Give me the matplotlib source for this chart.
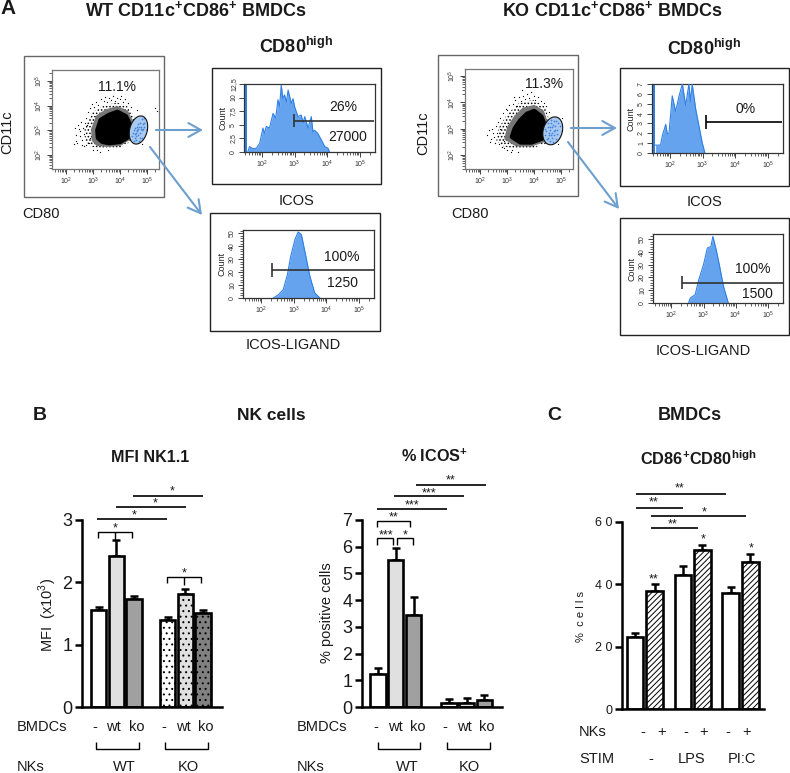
"""
Flow cytometry panels (A) and bar charts (B, C) for the BMDC / NK cell figure.
"""

import numpy as np
import matplotlib
matplotlib.use("Agg")
import matplotlib.pyplot as plt
from matplotlib.patches import Polygon, Rectangle
from matplotlib.ticker import LogLocator, FuncFormatter, NullFormatter, MultipleLocator

plt.rcParams['font.family'] = ['Liberation Sans', 'DejaVu Sans']
plt.rcParams['mathtext.fontset'] = 'custom'
plt.rcParams['mathtext.rm'] = 'Liberation Sans'
plt.rcParams['mathtext.bf'] = 'Liberation Sans:bold'
plt.rcParams['hatch.linewidth'] = 0.7

W, H = 790, 773

# --- panel B: MFI NK1.1
mfi_means = [1.55, 2.43, 1.74, 1.40, 1.82, 1.51]
mfi_errors = [0.05, 0.25, 0.04, 0.05, 0.08, 0.05]
# --- panel B: % ICOS+
icos_means = [1.25, 5.50, 3.45, 0.15, 0.15, 0.25]
icos_errors = [0.20, 0.47, 0.65, 0.15, 0.17, 0.20]
# --- panel C: CD86+CD80high
cd86_means = [23.0, 38.0, 43.0, 51.0, 37.3, 47.3]
cd86_errors = [1.3, 2.0, 2.8, 1.5, 1.9, 2.3]

bmdc_labels = ['-', 'wt', 'ko', '-', 'wt', 'ko']
nk_labels = ['WT', 'KO']
nk_stim_labels = ['-', '+', '-', '+', '-', '+']
stim_labels = ['-', 'LPS', 'PI:C']
c_tick_labels = ['0', '2 0', '4 0', '6 0']

# --- panel A histograms, log10(intensity) and count
wt_icos_log = [1.57, 1.62, 1.72, 1.83, 1.93, 2.03, 2.08, 2.13, 2.23, 2.34, 2.42, 2.49, 2.54, 2.59, 2.64, 2.69,
               2.75, 2.80, 2.90, 2.95, 3.00, 3.10, 3.20, 3.26, 3.31, 3.41, 3.51, 3.56, 3.61, 3.71, 3.82, 3.92, 4.02, 4.07]
wt_icos_count = [0.1, 1.0, 0.6, 0.7, 1.6, 4.4, 3.4, 4.7, 4.4, 7.1, 6.2, 9.6, 8.4, 12.3, 9.8, 10.5,
                 9.2, 11.4, 8.9, 9.8, 8.3, 6.5, 6.8, 5.4, 6.5, 4.4, 6.5, 3.7, 4.0, 3.4, 2.2, 1.0, 0.7, 0.0]
ko_icos_log = [1.56, 1.71, 1.77, 1.87, 1.92, 1.97, 2.07, 2.17, 2.28, 2.38, 2.48, 2.58, 2.63, 2.68, 2.79, 2.89, 2.99, 3.07]
ko_icos_count = [0.8, 0.8, 1.8, 2.9, 1.9, 2.0, 5.8, 4.2, 5.8, 7.0, 4.8, 7.0, 5.2, 7.0, 4.4, 2.7, 1.0, 0.0]
wt_icosl_log = [2.37, 2.52, 2.67, 2.80, 2.90, 3.03, 3.13, 3.23, 3.37, 3.49, 3.64, 3.80]
wt_icosl_count = [0, 2.5, 6.4, 18, 32, 45, 51, 49, 32, 17, 4, 0]
ko_icosl_log = [2.54, 2.59, 2.74, 2.85, 3.00, 3.12, 3.23, 3.29, 3.39, 3.49, 3.62, 3.77]
ko_icosl_count = [0.5, 3.9, 6.5, 18, 30, 43, 44, 52, 42, 30, 13, 0]

# --- panel A dot plots: dense cloud outlines, stray events and events in the gate (log10 units)
wt_core = [(3.2, 2.7), (3.18, 3.0), (3.3, 3.4), (3.6, 3.6), (3.9, 3.72), (4.2, 3.55), (4.35, 3.2), (4.3, 2.75), (4.0, 2.55), (3.6, 2.5), (3.35, 2.55)]
wt_mid = [(3.0, 2.6), (2.98, 3.05), (3.15, 3.55), (3.5, 3.8), (3.9, 3.92), (4.25, 3.75), (4.45, 3.3), (4.4, 2.7), (4.0, 2.42), (3.5, 2.38), (3.15, 2.42)]
wt_outer = [(2.7, 2.55), (2.68, 3.1), (2.95, 3.7), (3.4, 4.0), (3.9, 4.12), (4.3, 3.95), (4.55, 3.5), (4.5, 2.6), (4.0, 2.3), (3.4, 2.28), (2.95, 2.32)]
wt_stray_x = [2.28, 2.35, 2.42, 2.48, 2.52, 2.55, 2.6, 2.62, 2.66, 2.45, 2.38, 2.58, 2.72, 2.75, 2.78, 2.82,
              2.85, 2.9, 2.7, 2.65, 2.95, 3.0, 3.05, 3.1, 3.2, 3.3, 3.4, 3.45, 3.52, 3.6, 3.68, 3.75, 3.82,
              3.9, 3.98, 4.05, 4.12, 4.2, 4.3, 4.42, 5.3, 5.38, 4.62, 4.8, 3.15, 3.25, 3.55, 2.5, 2.32, 2.88, 4.95]
wt_stray_y = [2.45, 2.8, 2.5, 3.05, 2.75, 3.35, 2.6, 3.1, 2.85, 3.2, 2.55, 2.42, 3.5, 2.4, 3.2, 3.75,
              2.5, 3.9, 3.3, 2.35, 4.05, 2.2, 3.95, 4.15, 4.02, 4.28, 4.2, 4.35, 4.15, 4.3, 4.22, 4.38, 4.2,
              4.32, 4.25, 4.38, 4.15, 4.28, 4.12, 3.95, 3.92, 3.78, 3.82, 2.45, 2.18, 2.12, 2.2, 2.98, 3.08, 2.7, 3.3]
wt_gate_x = [4.45, 4.5, 4.52, 4.55, 4.58, 4.6, 4.62, 4.65, 4.68, 4.7, 4.72, 4.75, 4.78, 4.8, 4.82, 4.85, 4.88, 4.9,
             4.48, 4.56, 4.64, 4.72, 4.8, 4.88, 4.6, 4.68, 4.76, 4.84, 4.55, 4.63, 4.71]
wt_gate_y = [2.75, 2.55, 3.0, 2.7, 2.9, 2.6, 3.15, 2.8, 3.05, 2.55, 3.3, 2.9, 3.15, 2.7, 3.45, 3.05, 3.3, 3.5,
             2.9, 3.1, 3.0, 2.7, 3.0, 3.15, 2.75, 3.25, 3.05, 3.25, 2.85, 2.95, 3.15]
ko_core = [(3.2, 2.7), (3.3, 3.0), (3.5, 3.3), (3.75, 3.55), (4.0, 3.65), (4.25, 3.45), (4.4, 3.05), (4.3, 2.65), (3.9, 2.5), (3.5, 2.5)]
ko_mid = [(2.95, 2.62), (3.05, 3.05), (3.3, 3.45), (3.6, 3.75), (4.0, 3.85), (4.32, 3.65), (4.5, 3.1), (4.4, 2.55), (3.9, 2.38), (3.35, 2.38)]
ko_outer = [(2.6, 2.55), (2.7, 3.05), (3.0, 3.55), (3.4, 3.95), (3.95, 4.1), (4.4, 3.85), (4.6, 3.2), (4.5, 2.45), (3.9, 2.25), (3.2, 2.25), (2.8, 2.35)]
ko_stray_x = [2.25, 2.32, 2.4, 2.45, 2.5, 2.55, 2.58, 2.35, 2.62, 2.66, 2.7, 2.75, 2.8, 2.85, 2.9, 2.95,
              3.0, 3.08, 3.15, 3.22, 3.3, 3.38, 3.45, 3.52, 3.6, 3.68, 3.75, 3.82, 3.9, 3.98, 4.05, 4.15,
              4.25, 4.35, 4.45, 4.55, 3.0, 3.18, 3.4, 2.48, 2.72, 5.02, 4.9, 3.25, 3.55, 2.88]
ko_stray_y = [2.75, 2.95, 2.6, 3.0, 2.7, 2.45, 3.1, 2.5, 2.85, 3.25, 2.42, 3.4, 2.3, 3.6, 2.25, 3.75,
              3.7, 3.9, 2.1, 3.95, 4.1, 3.85, 4.2, 4.05, 4.25, 4.12, 4.32, 4.18, 4.4, 4.25, 4.1, 4.2,
              4.05, 3.98, 3.85, 3.62, 2.2, 2.18, 2.1, 2.85, 3.0, 3.4, 2.42, 4.22, 4.48, 2.55]
ko_gate_x = [4.4, 4.45, 4.48, 4.5, 4.55, 4.58, 4.6, 4.62, 4.65, 4.68, 4.7, 4.72, 4.75, 4.78, 4.8, 4.85, 4.9, 4.95,
             4.42, 4.52, 4.6, 4.68, 4.76, 4.84, 4.56, 4.64, 4.72, 4.8, 4.5, 4.62, 4.7]
ko_gate_y = [2.75, 2.9, 2.6, 3.05, 2.75, 2.95, 2.55, 3.2, 2.85, 3.05, 2.5, 3.3, 2.75, 3.1, 2.6, 2.95, 3.2, 3.1,
             3.0, 3.2, 3.05, 2.65, 2.95, 2.8, 2.85, 3.35, 2.9, 3.3, 2.65, 2.75, 3.15]

BLUE_FILL = '#66a3ee'
BLUE_EDGE = '#2f80e4'
ARROW = '#6d9fcf'
LIGHT = '#e0e0e0'
MID = '#a0a0a0'
DARK = '#808080'
INK = '#1a1a1a'

fig = plt.figure(figsize=(W / 100, H / 100), dpi=100, facecolor='white')

# Overlay in pixel coordinates for the text, frames and brackets
over = fig.add_axes([0, 0, 1, 1], zorder=5)
over.set_xlim(0, W)
over.set_ylim(H, 0)
over.axis('off')
over.patch.set_alpha(0)


def px_axes(x0, y0, x1, y1):
    """Axes placed by its pixel box in the reference."""
    return fig.add_axes([x0 / W, 1 - y1 / H, (x1 - x0) / W, (y1 - y0) / H])


def label(x, y, text, size=10.5, weight='normal', ha='center', rotation=0, color=INK):
    over.text(x, y, text, fontsize=size, fontweight=weight, ha=ha, va='center', rotation=rotation, color=color)


def line(xs, ys, lw=1.0, color='black'):
    over.plot(xs, ys, color=color, lw=lw, solid_capstyle='butt', solid_joinstyle='miter')


def box(x0, y0, x1, y1, color='#222222', lw=1.0):
    over.add_patch(Rectangle((x0, y0), x1 - x0, y1 - y0, fill=False, ec=color, lw=lw))


def arrow(x0, y0, x1, y1):
    over.annotate('', xy=(x1, y1), xytext=(x0, y0),
                  arrowprops=dict(arrowstyle='->,head_length=0.9,head_width=0.5', color=ARROW, lw=1.5,
                                  shrinkA=0, shrinkB=0))


def decade_label(value, _pos):
    return r'$\mathdefault{10^{%d}}$' % round(np.log10(value))


def log_axis(axis):
    axis.set_major_locator(LogLocator(base=10, subs=(1.0,), numticks=10))
    axis.set_minor_locator(LogLocator(base=10, subs=np.arange(2, 10), numticks=10))
    axis.set_major_formatter(FuncFormatter(decade_label))
    axis.set_minor_formatter(NullFormatter())


def style_flow(ax, frame='#555555'):
    for spine in ax.spines.values():
        spine.set_linewidth(0.9)
        spine.set_color(frame)
    ax.tick_params(which='major', length=3.5, width=0.6, labelsize=5, pad=1.5, color='#222222', labelcolor='#333333')
    ax.tick_params(which='minor', length=2, width=0.5, color='#222222')
    ax.tick_params(axis='y', labelrotation=90)
    plt.setp(ax.get_yticklabels(), va='center')


def dot_plot(rect, xlim, ylim, outer, mid, core, stray_x, stray_y, gate_x, gate_y, gate):
    ax = px_axes(*rect)
    ax.set_xscale('log')
    ax.set_yscale('log')
    # speckled fringe around the saturated core of the cloud
    ax.add_patch(Polygon(10.0 ** np.array(outer), closed=True, fc='white', ec='black', lw=0, hatch='.....', zorder=2))
    ax.add_patch(Polygon(10.0 ** np.array(mid), closed=True, fc='#777777', ec='#777777', lw=2, joinstyle='round', zorder=2.5))
    ax.add_patch(Polygon(10.0 ** np.array(core), closed=True, fc='black', ec='black', lw=4, joinstyle='round', zorder=2.6))
    ax.scatter(10.0 ** np.array(stray_x), 10.0 ** np.array(stray_y), s=0.8, c='black', lw=0, zorder=3)
    # gate ellipse, tilted to the right
    cx, cy, a, b = gate
    t = np.linspace(0, 2 * np.pi, 80)
    gx = 10.0 ** (cx + a * np.cos(t) + 0.15 * b * np.sin(t))
    gy = 10.0 ** (cy + b * np.sin(t))
    ax.fill(gx, gy, fc='#a9c9f0', ec='none', zorder=4)
    ax.scatter(10.0 ** np.array(gate_x), 10.0 ** np.array(gate_y), s=1.6, c='#3f86e0', lw=0, zorder=5)
    ax.plot(gx, gy, color='#111111', lw=0.8, zorder=6)
    ax.set_xlim(10 ** xlim[0], 10 ** xlim[1])
    ax.set_ylim(10 ** ylim[0], 10 ** ylim[1])
    log_axis(ax.xaxis)
    log_axis(ax.yaxis)
    style_flow(ax, '#777777')
    return ax


def histogram(rect, xlim, ymax, logs, counts, major, minor, labels, strip=None):
    ax = px_axes(*rect)
    ax.set_xscale('log')
    xs = 10.0 ** np.array(logs)
    ax.fill_between(xs, counts, 0, color=BLUE_FILL, lw=0, zorder=2)
    ax.plot(xs, counts, color=BLUE_EDGE, lw=0.8, zorder=3)
    if strip is not None:
        ax.axvspan(10 ** xlim[0], 10 ** strip, color=BLUE_EDGE, lw=0, zorder=2)
    ax.set_xlim(10 ** xlim[0], 10 ** xlim[1])
    ax.set_ylim(0, ymax)
    log_axis(ax.xaxis)
    ax.yaxis.set_major_locator(MultipleLocator(major))
    ax.yaxis.set_minor_locator(MultipleLocator(minor))
    ax.yaxis.set_major_formatter(FuncFormatter(lambda v, _p: labels(v)))
    style_flow(ax, '#333333')
    ax.set_ylabel('Count', fontsize=6.5, labelpad=1.5, color='#222222')
    return ax


def bar_panel(rect, positions, means, errors, fills, hatches, xlim, ylim, ticks, ticklabels=None, tick_size=13):
    ax = px_axes(*rect)
    bars = ax.bar(positions, means, width=0.86, color=fills, edgecolor='black', linewidth=1.9, zorder=2)
    for bar, hatch in zip(bars, hatches):
        if hatch:
            bar.set_hatch(hatch)
    ax.errorbar(positions, means, yerr=[np.zeros(len(errors)), errors], fmt='none', ecolor='black',
                elinewidth=1.8, capsize=3, capthick=1.8, zorder=1)
    ax.set_xlim(*xlim)
    ax.set_ylim(*ylim)
    ax.set_xticks([])
    ax.set_yticks(ticks)
    if ticklabels is not None:
        ax.set_yticklabels(ticklabels)
    for side in ('top', 'right'):
        ax.spines[side].set_visible(False)
    for side in ('left', 'bottom'):
        ax.spines[side].set_linewidth(1.8)
    ax.tick_params(axis='y', length=5, width=1.8, labelsize=tick_size, pad=2, labelcolor=INK)
    ax.patch.set_alpha(0)
    return ax


def sig_line(x0, x1, y, stars, tx, ty):
    line([x0, x1], [y, y], lw=1.2)
    label(tx, ty, stars, size=9)


def sig_bracket(x0, x1, y, drop, stars, tx, ty, stem=None):
    line([x0, x0, x1, x1], [y + drop, y, y, y + drop], lw=1.0)
    if stem is not None:
        line([stem, stem], [y, y + drop + 2], lw=1.0)
    label(tx, ty, stars, size=9)


def group_rule(x0, x1):
    line([x0, x0, x1, x1], [742, 748.5, 748.5, 742], lw=1.0)


# ---------- Panel A ----------
label(8, 9, 'A', size=15, weight='bold')
label(196, 10, r'WT CD11c$^{\mathbf{+}}$CD86$^{\mathbf{+}}$ BMDCs', size=13, weight='bold')
label(612, 10, r'KO CD11c$^{\mathbf{+}}$CD86$^{\mathbf{+}}$ BMDCs', size=13, weight='bold')
label(296, 47, r'CD80$^{\mathbf{high}}$', size=13, weight='bold')
label(704, 49, r'CD80$^{\mathbf{high}}$', size=13, weight='bold')

box(24, 56, 164, 197, color='#666666')
dot_plot((52, 70, 159, 169), (1.48, 5.44), (1.43, 5.44), wt_outer, wt_mid, wt_core,
         wt_stray_x, wt_stray_y, wt_gate_x, wt_gate_y, (4.68, 3.01, 0.33, 0.57))
box(438, 55, 578, 196, color='#666666')
dot_plot((465, 69, 573, 169), (1.44, 5.44), (1.47, 5.27), ko_outer, ko_mid, ko_core,
         ko_stray_x, ko_stray_y, ko_gate_x, ko_gate_y, (4.69, 2.92, 0.36, 0.53))

box(212, 68, 381, 184)
histogram((244, 84, 375, 152), (1.45, 5.46), 12.5, wt_icos_log, wt_icos_count, 2.5, 2.5,
          lambda v: ('%g' % v).replace('.', ','), strip=1.53)
box(210, 213, 380, 331)
histogram((243, 230, 374, 298), (1.43, 5.47), 52.5, wt_icosl_log, wt_icosl_count, 10, 2, lambda v: '%g' % v)
box(620, 68, 789, 186)
histogram((652, 84, 783, 153), (1.45, 5.46), 7, ko_icos_log, ko_icos_count, 1, 1, lambda v: '%g' % v, strip=1.53)
box(620, 218, 789, 335)
histogram((653, 234, 783, 303), (1.43, 5.47), 53.9, ko_icosl_log, ko_icosl_count, 10, 2, lambda v: '%g' % v)

label(117, 87, '11.1%', size=10)
label(544, 84, '11.3%', size=10)
label(343, 107, '26%', size=10)
label(348, 137, '27000', size=10)
label(746, 109, '0%', size=10)
label(342, 257, '100%', size=10)
label(343, 283, '1250', size=10)
label(753, 269, '100%', size=10)
label(757, 294, '1500', size=10)

# gate markers on the histograms
for mx, y_low, y_high, y_mid, x_end, col in ((294, 114, 127, 121, 374, '#333333'), (272, 263, 277, 270, 374, '#333333'),
                                             (706, 115, 129, 122, 782, 'black'), (682, 276, 289, 283, 783, '#333333')):
    line([mx, mx], [y_low, y_high], lw=1.2, color=col)
    line([mx, x_end], [y_mid, y_mid], lw=1.2, color=col)

label(7, 132, 'CD11c', rotation=90)
label(41, 214, 'CD80')
label(296, 201, 'ICOS')
label(293, 345, 'ICOS-LIGAND')
label(423, 133, 'CD11c', rotation=90)
label(470, 214, 'CD80')
label(705, 202, 'ICOS')
label(703, 351, 'ICOS-LIGAND')

arrow(156, 130, 203, 130)
arrow(150, 147, 202, 215)
arrow(571, 128, 617, 128)
arrow(568, 142, 619, 209)

# ---------- Panel B ----------
label(40, 416, 'B', size=14, weight='bold')
label(271, 416, 'NK cells', size=12.5, weight='bold')
label(150, 458, 'MFI NK1.1', size=11.6, weight='bold')
label(435, 456, r'% ICOS$^{\mathbf{+}}$', size=11.7, weight='bold')

mfi_positions = [0, 1, 2, 3.9, 4.9, 5.9]
mfi_fills = ['white', LIGHT, MID, 'white', LIGHT, DARK]
mfi_hatches = [None, None, None, '...', '...', '...']
bar_panel((82, 520, 222, 707), mfi_positions, mfi_means, mfi_errors, mfi_fills, mfi_hatches,
          (-0.94, 6.97), (0, 3), [0, 1, 2, 3])
label(48, 615, r'MFI  (x10$^{3}$)', size=10.5, rotation=90)

sig_line(133, 203, 496, '*', 172, 491)
sig_line(116, 186, 507, '*', 155, 503)
sig_line(97, 167, 519, '*', 134, 515)
sig_bracket(98, 132, 532, 6, '*', 115, 528, stem=115)
sig_bracket(167, 201, 577, 6, '*', 184, 573, stem=184)

icos_positions = [0, 1, 2, 4.0, 5.0, 6.0]
icos_fills = ['white', LIGHT, MID, 'white', LIGHT, MID]
bar_panel((362, 520, 502, 707), icos_positions, icos_means, icos_errors, icos_fills, [None] * 6,
          (-0.91, 7.0), (0, 7), list(range(8)))
label(327, 613, '% positive cells', size=10.5, rotation=90)

sig_line(416, 486, 485, '**', 451, 480)
sig_line(394, 464, 496, '***', 429, 493)
sig_line(377, 447, 509, '***', 412, 505)
sig_bracket(377, 410, 521, 6, '**', 394, 517)
sig_bracket(377, 393, 538, 7, '***', 386, 535)
sig_bracket(397, 413, 538, 7, '*', 405, 535)

for centers, name_x in (((95, 113, 137, 164, 183, 206), 17), ((376, 395, 418, 445, 464, 487), 297)):
    label(name_x, 727, 'BMDCs', ha='left')
    label(name_x, 767, 'NKs', ha='left')
    for cx, text in zip(centers, bmdc_labels):
        label(cx, 727, text)
group_rule(96, 139)
group_rule(165, 208)
group_rule(378, 420)
group_rule(447, 490)
for cx, text in zip((124, 188), nk_labels):
    label(cx, 767, text)
for cx, text in zip((407, 469), nk_labels):
    label(cx, 767, text)

# ---------- Panel C ----------
label(554, 416, 'C', size=14, weight='bold')
label(690, 416, 'BMDCs', size=13, weight='bold')
label(698, 459, r'CD86$^{\mathbf{+}}$CD80$^{\mathbf{high}}$', size=11.8, weight='bold')

cd86_positions = [0, 1, 2.45, 3.45, 4.9, 5.9]
cd86_fills = ['white'] * 6
cd86_hatches = [None, '//////', None, '//////', None, '//////']
bar_panel((622, 522, 764, 709), cd86_positions, cd86_means, cd86_errors, cd86_fills, cd86_hatches,
          (-0.67, 6.6), (0, 60), [0, 20, 40, 60], c_tick_labels, tick_size=9)
label(581, 617, '%  c e l l s', size=8, rotation=90)

label(654, 579, '**', size=9)
label(703, 539, '*', size=9)
label(751, 548, '*', size=9)
sig_line(636, 726, 494, '**', 680, 488)
sig_line(636, 683, 508, '**', 654, 502)
sig_line(651, 746, 516, '*', 704, 512)
sig_line(651, 698, 528, '**', 673, 524)

label(579, 732, 'NKs', ha='left')
label(579, 759, 'STIM', ha='left')
for cx, text in zip((643, 662, 686, 704, 728, 747), nk_stim_labels):
    label(cx, 732, text)
for cx, text in zip((651, 692, 742), stim_labels):
    label(cx, 759, text)

fig.savefig('out.png', dpi=100)
plt.close(fig)
